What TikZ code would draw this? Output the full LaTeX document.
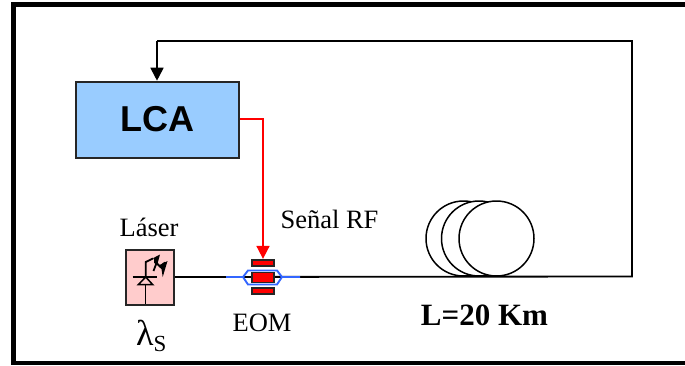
\documentclass[tikz,border=0pt]{standalone}
\usepackage{fontspec}
\setmainfont{Liberation Serif}
\newfontfamily\arialf{Liberation Sans}
\usetikzlibrary{arrows.meta}
\definecolor{lcablue}{RGB}{153,204,255}
\definecolor{laserpink}{RGB}{255,204,204}
\definecolor{eomblue}{RGB}{51,102,255}
\tikzset{
  x=1pt,y=-1pt,
  lbl/.style={inner sep=0pt,font=\fontsize{26.5}{28}\selectfont},
  wire/.style={draw=black,line width=1.8pt},
  coil/.style={draw=black,line width=1.5pt,fill=white,circle,minimum size=75pt,inner sep=0pt},
  electrode/.style={draw=black!85,line width=1.8pt,fill=red,inner sep=0pt,minimum width=22pt},
  head/.style={-{Triangle[length=13pt,width=13pt]}},
}
\begin{document}
\begin{tikzpicture}
\useasboundingbox (0,0) rectangle (685,365);
\fill[white] (0,0) rectangle (685,365);
% outer frame
\fill[black] (10.5,2) rectangle (685,7);
\fill[black] (10.5,2) rectangle (15.5,365);
\fill[black] (10.5,361) rectangle (685,365);
% nodes
\node[draw=black!85,line width=1.8pt,fill=lcablue,minimum width=163pt,minimum height=76pt,inner sep=0pt,anchor=north west,font=\arialf\bfseries\fontsize{36}{38}\selectfont] (lca) at (74.7,80.7) {LCA};
\node[draw=black!85,line width=1.8pt,fill=laserpink,minimum width=48pt,minimum height=55pt,inner sep=0pt,anchor=north west] (laser) at (125,248.7) {};
\coordinate (eomin) at (226,277);
\coordinate (eomout) at (300,277);
\coordinate (corner) at (632,276.5);
\coordinate (topright) at (632,41);
\coordinate (topleft) at (157,41);
\coordinate (redcorner) at (263,119);
% fibre
\draw[wire] (laser.east |- eomin) -- (corner) -- (topright) -- (topleft);
\draw[wire,head] (topleft) -- (lca.north -| topleft);
% coils
\node[coil] (c1) at (463.5,238.5) {};
\node[coil] (c2) at (479,238.5) {};
\node[coil] (c3) at (496.5,238.5) {};
% modulator
\draw[eomblue,line width=1.9pt] (eomin) -- (243,277) -- (248,270.5) -- (277,270.5) -- (282,277) -- (eomout);
\draw[eomblue,line width=1.9pt] (243,277) -- (248,284.5) -- (277,284.5) -- (282,277);
\node[electrode,minimum height=6.5pt] (etop) at (263,263) {};
\node[electrode,minimum height=10pt] (emid) at (263,277.5) {};
\node[electrode,minimum height=6.5pt] (ebot) at (263,291) {};
% red line
\draw[red,line width=1.8pt,head] (lca.east |- redcorner) -- (redcorner) -- (etop.north -| redcorner);
% laser symbol
\draw[line width=1.5pt] (132.7,276.8) -- (156.5,276.8);
\draw[line width=1.5pt] (145.7,277) -- (138.3,284.7) -- (152.8,284.7) -- cycle;
\draw[line width=1.5pt] (145.7,284.7) -- (145.7,304);
\draw[line width=1.8pt,line join=miter] (145.7,277) -- (145.7,262) -- (153,258.5);
\fill (150.5,259.5) -- (160,254.5) -- (157,265.5) -- (154,262.5) -- (154,258.5) -- cycle;
\draw[line width=1.8pt] (153.5,271) -- (156.5,263) -- (160,266.5) -- (165,262.5);
\fill (158.5,265.5) -- (167.5,261) -- (162.7,277) -- (161.5,269) -- (160,267.5) -- cycle;
% labels
\node[lbl] (tlaser) at (149,227) {Láser};
\node[lbl,font=\fontsize{36}{38}\selectfont,anchor=base west] (tlambda) at (136,345) {λ\raisebox{-6pt}{\fontsize{23}{24}\selectfont S}};
\node[lbl] (teom) at (262,322.5) {EOM};
\node[lbl] (trf) at (329.5,219) {Señal RF};
\node[lbl,font=\bfseries\fontsize{31}{33}\selectfont] (tlen) at (484.5,315) {L=20 Km};
\end{tikzpicture}
\end{document}
